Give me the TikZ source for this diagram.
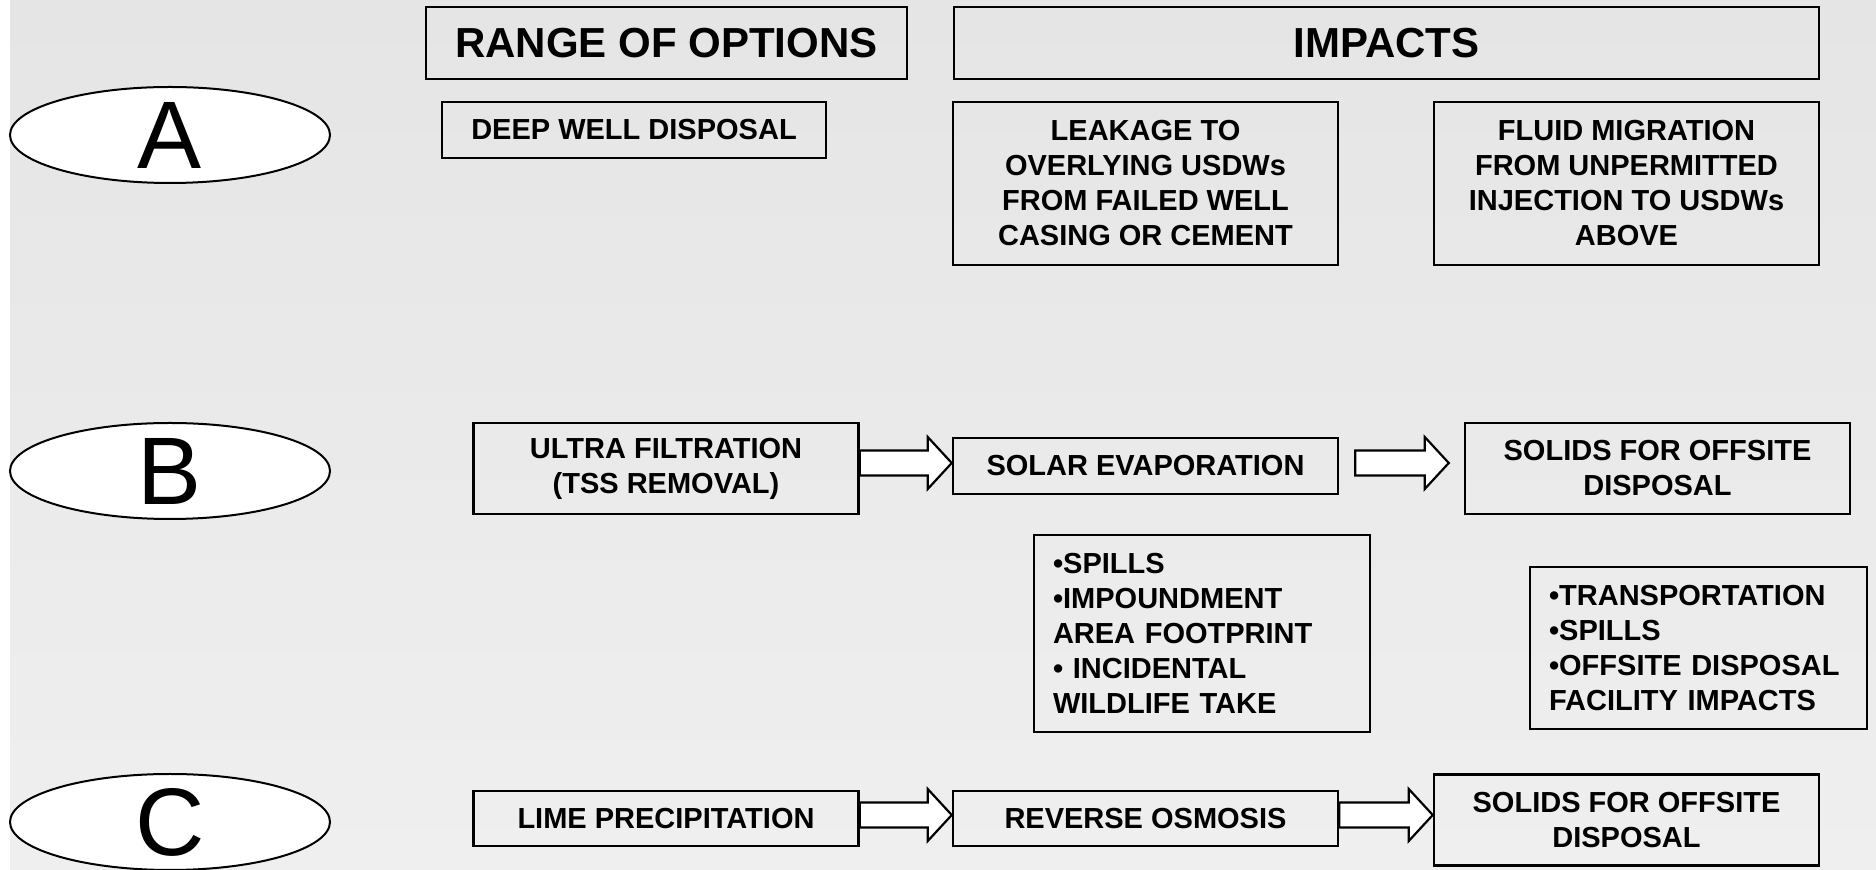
\documentclass[tikz,border=0pt]{standalone}
\usepackage{fontspec}
\setmainfont{Liberation Sans}
\usetikzlibrary{calc,shapes.geometric}
\definecolor{bgtop}{RGB}{229,229,229}
\definecolor{bgbot}{RGB}{239,239,239}
\newcommand\barr[3]{%
  \draw[barrow] let \p1=(#1), \p2=(#2) in
    ({\x1},{\y2+#3+6.25pt}) -- ({\x2-12pt},{\y2+#3+6.25pt}) --
    ({\x2-12pt},{\y2+#3+13pt}) -- ({\x2},{\y2+#3}) --
    ({\x2-12pt},{\y2+#3-13pt}) -- ({\x2-12pt},{\y2+#3-6.25pt}) --
    ({\x1},{\y2+#3-6.25pt}) -- cycle;}
\begin{document}
\begin{tikzpicture}[x=0.5pt,y=-0.5pt,
  box/.style={draw, line width=1.25pt, inner sep=0pt, align=center,
    font=\bfseries\fontsize{14.5}{17.5}\selectfont},
  sz/.style 2 args={minimum width=#1*0.5pt, minimum height=#2*0.5pt},
  listbox/.style={align=left, inner xsep=9.5pt, text width=#1},
  headbox/.style={draw, line width=1.25pt, inner sep=0pt,
    font=\bfseries\fontsize{21}{25}\selectfont},
  oval/.style={draw, ellipse, fill=white, line width=1pt,
    minimum width=160pt, minimum height=48pt, inner sep=0pt},
  lett/.style={inner sep=0pt, font=\fontsize{48}{48}\selectfont},
  barrow/.style={draw, fill=white, line width=1.1pt, line join=miter}]
\useasboundingbox (0,0) rectangle (1876,870);
\fill[top color=bgtop, bottom color=bgbot] (10,0) rectangle (1876,870);

\node[headbox, sz={481}{72}] (range) at (666.5,43) {RANGE OF OPTIONS};
\node[headbox, sz={865}{72}] (impacts) at (1386.5,43) {IMPACTS};

\node[oval, label={[lett]center:A}] (ovA) at (170,135) {};
\node[box, sz={384}{56}] (deep) at (634,130) {DEEP WELL DISPOSAL};
\node[box, sz={385}{163}] (leak) at (1145.5,183.5)
  {LEAKAGE TO\\OVERLYING USDWs\\FROM FAILED WELL\\CASING OR CEMENT};
\node[box, sz={385}{163}] (fluid) at (1626.5,183.5)
  {FLUID MIGRATION\\FROM UNPERMITTED\\INJECTION TO USDWs\\ABOVE};

\node[oval, label={[lett]center:B}] (ovB) at (170,471) {};
\node[box, sz={385}{91}] (ultra) at (666,468.5) {ULTRA FILTRATION\\(TSS REMOVAL)};
\node[box, sz={385}{56}] (solar) at (1145.5,466) {SOLAR EVAPORATION};
\node[box, sz={385}{91}] (solidsB) at (1657.5,468.5) {SOLIDS FOR OFFSITE\\DISPOSAL};
\node[box, listbox=149pt, sz={336}{197}] (spills) at (1202,633.5)
  {•SPILLS\\•IMPOUNDMENT\\AREA FOOTPRINT\\• INCIDENTAL\\WILDLIFE TAKE};
\node[box, listbox=149.5pt, sz={337}{162}] (transp) at (1698.5,648)
  {•TRANSPORTATION\\•SPILLS\\•OFFSITE DISPOSAL\\FACILITY IMPACTS};

\node[oval, label={[lett]center:C}] (ovC) at (170,822) {};
\node[box, sz={385}{55}] (lime) at (666,818.5) {LIME PRECIPITATION};
\node[box, sz={385}{55}] (ro) at (1145.5,818.5) {REVERSE OSMOSIS};
\node[box, sz={385}{91}] (solidsC) at (1626.5,820) {SOLIDS FOR OFFSITE\\DISPOSAL};

\barr{ultra.east}{solar.west}{1.5pt}
\barr{$(solar.east)+(16,0)$}{$(solidsB.west)+(-15,0)$}{2.75pt}
\barr{lime.east}{ro.west}{1.75pt}
\barr{ro.east}{solidsC.west}{2.5pt}
\end{tikzpicture}
\end{document}
